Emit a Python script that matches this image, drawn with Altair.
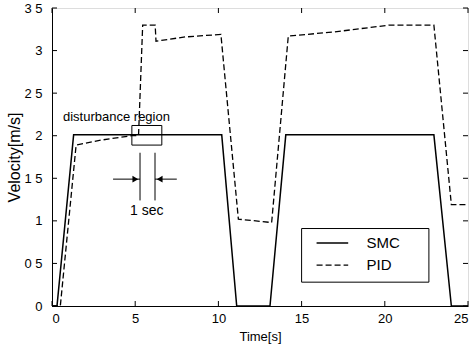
import altair as alt
import pandas as pd

# Velocity traces (time in s, velocity in m/s)
smc_t = [0, 0.3, 1.3, 10.2, 11.1, 13.1, 14.05, 22.95, 24.0, 25]
smc_v = [0, 0, 2.01, 2.01, 0, 0, 2.01, 2.01, 0, 0]

pid_t = [0, 0.5, 1.45, 3.0, 4.8, 5.2, 5.45, 6.2, 6.25, 8.0, 10.15, 11.2,
         13.2, 14.2, 17.0, 20.3, 22.95, 24.0, 25]
pid_v = [0, 0, 1.89, 1.95, 2.0, 2.0, 3.3, 3.3, 3.11, 3.16, 3.19, 1.02,
         0.98, 3.17, 3.22, 3.3, 3.3, 1.19, 1.19]

x_ticks = [0, 5, 10, 15, 20, 25]
y_ticks = [0, 0.5, 1, 1.5, 2, 2.5, 3, 3.5]

# Annotation geometry in data units
dist_box = {"x": [4.8], "x2": [6.6], "y": [1.89], "y2": [2.12]}
sec_marks_x = [5.29, 6.19]
sec_marks_y = [1.24, 1.8]
arrow_y = 1.49
legend_box = {"x": [15.0], "x2": [22.65], "y": [0.28], "y2": [0.91]}
legend_rows = ["SMC", "PID"]
legend_y = [0.74, 0.48]

W, H = 416, 298
FONT = "Liberation Sans"

xs = alt.Scale(domain=[0, 25], nice=False, zero=False)
ys = alt.Scale(domain=[0, 3.5], nice=False, zero=False)

smc_df = pd.DataFrame({"t": smc_t, "v": smc_v})
pid_df = pd.DataFrame({"t": pid_t, "v": pid_v})

x_axis = alt.Axis(values=x_ticks, ticks=False, grid=False, labelFont=FONT,
                  labelFontSize=13, labelColor="black", labelPadding=6,
                  domainColor="black", title="Time[s]", titleFont=FONT,
                  titleFontSize=13, titleFontWeight="normal", titleColor="black",
                  titlePadding=5, format="~g")
y_axis = alt.Axis(values=y_ticks, ticks=False, grid=False, labelFont=FONT,
                  labelFontSize=13, labelColor="black", labelPadding=10,
                  domainColor="black", title="Velocity[m/s]", titleFont=FONT,
                  titleFontSize=16, titleFontWeight="normal", titleColor="black",
                  titlePadding=1,
                  labelExpr="replace(format(datum.value, '~g'), '.', ' ')")

smc = alt.Chart(smc_df).mark_line(color="black", strokeWidth=1.5).encode(
    x=alt.X("t:Q", scale=xs, axis=x_axis),
    y=alt.Y("v:Q", scale=ys, axis=y_axis),
)
pid = alt.Chart(pid_df).mark_line(color="black", strokeWidth=1.3,
                                  strokeDash=[6, 3]).encode(
    x=alt.X("t:Q", scale=xs), y=alt.Y("v:Q", scale=ys))

# Inward tick marks on all four sides
xt = pd.DataFrame({"t": x_ticks})
yt = pd.DataFrame({"v": y_ticks})
tick_b = alt.Chart(xt).mark_rule(color="black").encode(
    x=alt.X("t:Q", scale=xs), y=alt.value(H), y2=alt.value(H - 5))
tick_t = alt.Chart(xt).mark_rule(color="black").encode(
    x=alt.X("t:Q", scale=xs), y=alt.value(0), y2=alt.value(5))
tick_l = alt.Chart(yt).mark_rule(color="black").encode(
    y=alt.Y("v:Q", scale=ys), x=alt.value(0), x2=alt.value(5))
tick_r = alt.Chart(yt).mark_rule(color="black").encode(
    y=alt.Y("v:Q", scale=ys), x=alt.value(W), x2=alt.value(W - 5))

# Disturbance region annotation
box = alt.Chart(pd.DataFrame(dist_box)).mark_rect(
    fill=None, stroke="black", strokeWidth=1).encode(
    x=alt.X("x:Q", scale=xs), x2="x2:Q", y=alt.Y("y:Q", scale=ys), y2="y2:Q")
dist_txt = alt.Chart(pd.DataFrame({"x": [0.66], "y": [2.22],
                                   "s": ["disturbance region"]})).mark_text(
    align="left", baseline="middle", font=FONT, fontSize=13, color="black").encode(
    x=alt.X("x:Q", scale=xs), y=alt.Y("y:Q", scale=ys), text="s:N")

vl = pd.DataFrame({"x": sec_marks_x, "y": [sec_marks_y[0]] * 2,
                   "y2": [sec_marks_y[1]] * 2})
sec_lines = alt.Chart(vl).mark_rule(color="black", strokeWidth=1).encode(
    x=alt.X("x:Q", scale=xs), y=alt.Y("y:Q", scale=ys), y2="y2:Q")

arr = pd.DataFrame({"x": [3.67, 7.5], "x2": sec_marks_x,
                    "y": [arrow_y, arrow_y]})
arr_lines = alt.Chart(arr).mark_rule(color="black", strokeWidth=1).encode(
    x=alt.X("x:Q", scale=xs), x2="x2:Q", y=alt.Y("y:Q", scale=ys))
heads = pd.DataFrame({"x": [sec_marks_x[0] - 0.28, sec_marks_x[1] + 0.28],
                      "y": [arrow_y, arrow_y],
                      "shape": ["triangle-right", "triangle-left"]})
arr_heads = alt.Chart(heads).mark_point(filled=True, color="black", size=45,
                                        opacity=1).encode(
    x=alt.X("x:Q", scale=xs), y=alt.Y("y:Q", scale=ys),
    shape=alt.Shape("shape:N", scale=None))
sec_txt = alt.Chart(pd.DataFrame({"x": [5.7], "y": [1.12], "s": ["1 sec"]})).mark_text(
    align="center", baseline="middle", font=FONT, fontSize=14, color="black").encode(
    x=alt.X("x:Q", scale=xs), y=alt.Y("y:Q", scale=ys), text="s:N")

# Legend drawn inside the plot
lbox = alt.Chart(pd.DataFrame(legend_box)).mark_rect(
    fill="white", stroke="black", strokeWidth=1).encode(
    x=alt.X("x:Q", scale=xs), x2="x2:Q", y=alt.Y("y:Q", scale=ys), y2="y2:Q")
lg = pd.DataFrame({"x": [15.9] * 2, "x2": [17.8] * 2, "y": legend_y,
                   "name": legend_rows})
l_smc = alt.Chart(lg.iloc[[0]]).mark_rule(color="black", strokeWidth=1.5).encode(
    x=alt.X("x:Q", scale=xs), x2="x2:Q", y=alt.Y("y:Q", scale=ys))
l_pid = alt.Chart(lg.iloc[[1]]).mark_rule(color="black", strokeWidth=1.3,
                                          strokeDash=[6, 3]).encode(
    x=alt.X("x:Q", scale=xs), x2="x2:Q", y=alt.Y("y:Q", scale=ys))
l_txt = alt.Chart(lg.assign(tx=18.9)).mark_text(
    align="left", baseline="middle", font=FONT, fontSize=15, color="black").encode(
    x=alt.X("tx:Q", scale=xs), y=alt.Y("y:Q", scale=ys), text="name:N")

chart = alt.layer(
    pid, smc, box, dist_txt, sec_lines, arr_lines, arr_heads, sec_txt,
    lbox, l_smc, l_pid, l_txt, tick_b, tick_t, tick_l, tick_r,
).properties(
    width=W, height=H,
    autosize=alt.AutoSizeParams(type="none"),
    padding={"left": 52, "top": 8, "right": 5, "bottom": 42},
).configure_view(stroke="black", strokeWidth=1).configure(background="white")

chart.save("out.html", embed_options={"renderer": "svg", "actions": False})
